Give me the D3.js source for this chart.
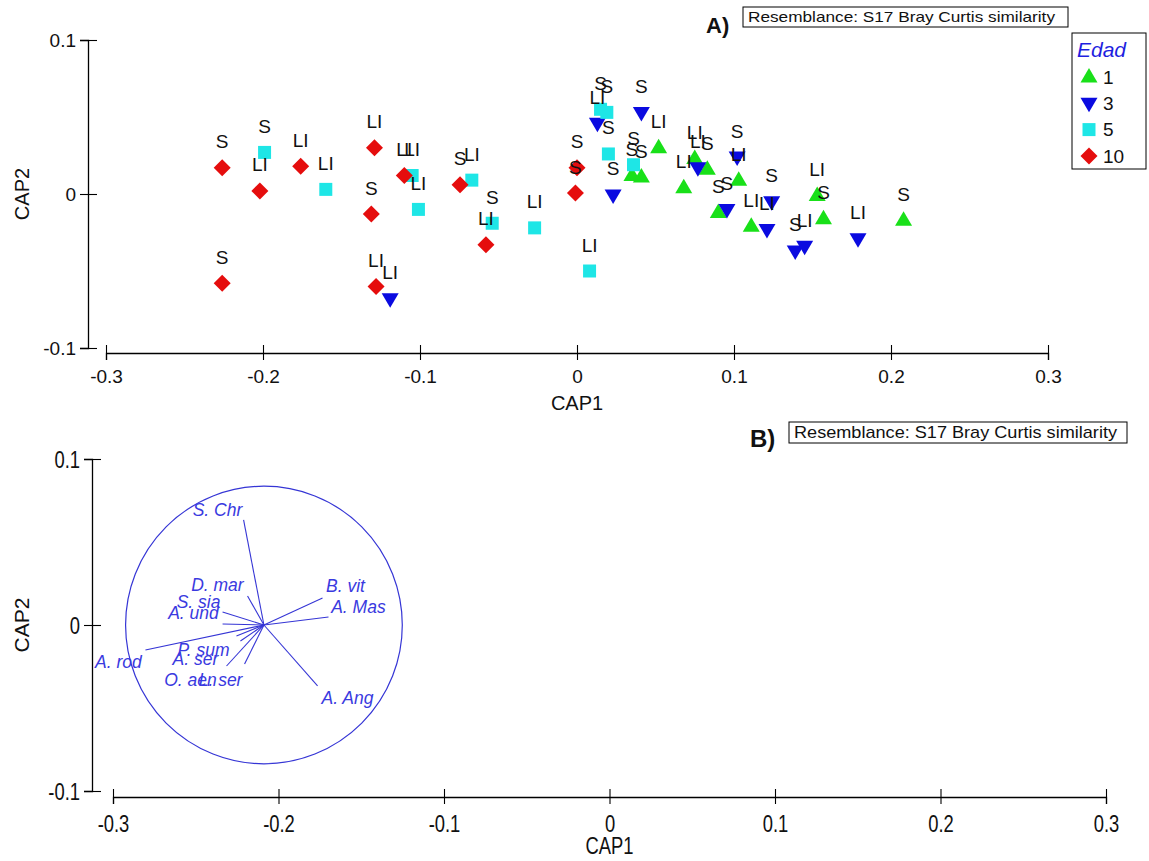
<!DOCTYPE html>
<html>
<head>
<meta charset="utf-8">
<script src="https://cdn.jsdelivr.net/npm/d3@7"></script>
<style>
  html, body { margin: 0; padding: 0; background: #fff; }
  svg { display: block; font-family: Arial, "Liberation Sans", sans-serif; }
</style>
</head>
<body>
<svg id="chart" width="1149" height="861"></svg>
<script>
// ---------------- DATA ----------------
const ageGroups = ["1", "3", "5", "10"];
const groupColors = ["#19e019", "#0a0ae0", "#1ee6e6", "#e50d0d"];

// Age 1 (green up-triangles)
const cap1Age1 = [0.052, 0.035, 0.041, 0.068, 0.075, 0.083, 0.103, 0.090, 0.111, 0.153, 0.157, 0.208];
const cap2Age1 = [0.030, 0.012, 0.011, 0.004, 0.023, 0.016, 0.009, -0.012, -0.021, -0.001, -0.016, -0.017];
const labAge1  = ["LI", "S", "S", "LI", "LI", "S", "LI", "S", "LI", "LI", "S", "S"];

// Age 3 (blue down-triangles)
const cap1Age3 = [-0.119, 0.013, 0.041, 0.023, 0.077, 0.102, 0.0955, 0.124, 0.121, 0.139, 0.145, 0.179];
const cap2Age3 = [-0.068, 0.046, 0.053, -0.0006, 0.017, 0.024, -0.010, -0.005, -0.023, -0.037, -0.034, -0.029];
const labAge3  = ["LI", "LI", "S", "S", "LI", "S", "S", "S", "LI", "S", "LI", "LI"];

// Age 5 (cyan squares)
const cap1Age5 = [-0.199, -0.160, -0.105, -0.101, -0.067, -0.054, -0.027, 0.008, 0.015, 0.019, 0.020, 0.036];
const cap2Age5 = [0.027, 0.003, 0.012, -0.010, 0.009, -0.019, -0.022, -0.050, 0.055, 0.053, 0.026, 0.019];
const labAge5  = ["S", "LI", "LI", "LI", "LI", "S", "LI", "LI", "S", "S", "S", "S"];

// Age 10 (red diamonds)
const cap1Age10 = [-0.226, -0.202, -0.176, -0.129, -0.131, -0.110, -0.0745, -0.058, 0.000, -0.001, -0.226, -0.128];
const cap2Age10 = [0.017, 0.002, 0.018, 0.030, -0.013, 0.012, 0.006, -0.033, 0.017, 0.0006, -0.058, -0.060];
const labAge10  = ["S", "LI", "LI", "LI", "S", "LI", "S", "LI", "S", "S", "S", "LI"];

// Panel B: vectors (species correlations)
const species   = ["S. Chr", "D. mar", "S. sia", "A. und", "B. vit", "A. Mas", "A. rod", "P. sum", "A. ser", "O. aen", "L. ser", "A. Ang"];
const vecEndX   = [-0.2211, -0.2187, -0.2338, -0.2338, -0.1734, -0.1698, -0.2804, -0.2254, -0.2230, -0.2314, -0.2205, -0.1764];
const vecEndY   = [0.0633, 0.0175, 0.0078, 0.0006, 0.0163, 0.0048, -0.0151, -0.0066, -0.0096, -0.0247, -0.0235, -0.0367];
const vecLabX   = [-0.2369, -0.2369, -0.2483, -0.2514, -0.1595, -0.1517, -0.2967, -0.2453, -0.2502, -0.2532, -0.2350, -0.1583];
const vecLabY   = [0.0693, 0.0241, 0.0139, 0.0072, 0.0235, 0.0108, -0.0223, -0.0151, -0.0205, -0.0331, -0.0331, -0.0440];
const vecOrigin = [-0.2088, 0.0];
const circleRadius = 0.0836;

const xTicks = [-0.3, -0.2, -0.1, 0, 0.1, 0.2, 0.3];
const yTicks = [-0.1, 0, 0.1];
const xTickLabels = ["-0.3", "-0.2", "-0.1", "0", "0.1", "0.2", "0.3"];
const yTickLabels = ["-0.1", "0", "0.1"];
const boxText = "Resemblance: S17 Bray Curtis similarity";

// ---------------- DRAW ----------------
const svg = d3.select("#chart");
const FONT = "Arial, 'Liberation Sans', sans-serif";

function drawAxes(g, x, y, xAxisY, yAxisX, opts) {
  const xa = g.append("g").attr("transform", `translate(0,${xAxisY})`)
    .call(d3.axisBottom(x).tickValues(xTicks).tickFormat((d, i) => xTickLabels[i]).tickSizeOuter(0).tickSize(7));
  xa.select(".domain").attr("stroke", "#000").attr("stroke-width", 1.3);
  xa.selectAll(".tick line").attr("y1", -8).attr("y2", 7).attr("stroke", "#000").attr("stroke-width", 1.1);
  xa.selectAll(".tick text").attr("y", opts.xLabY).attr("dy", 0)
    .attr("font-size", opts.fs).attr("font-family", FONT).attr("fill", "#111")
    .attr("transform", `scale(${opts.sx},1)`);

  const ya = g.append("g").attr("transform", `translate(${yAxisX},0)`)
    .call(d3.axisLeft(y).tickValues(yTicks).tickFormat((d, i) => yTickLabels[i]).tickSizeOuter(0).tickSize(8));
  ya.select(".domain").attr("stroke", "#000").attr("stroke-width", 1.3);
  ya.selectAll(".tick line").attr("x1", -8).attr("x2", 9).attr("stroke", "#000").attr("stroke-width", 1.1);
  ya.selectAll(".tick text").attr("x", -12 / opts.sx).attr("dy", "0.36em")
    .attr("font-size", opts.fs).attr("font-family", FONT).attr("fill", "#111")
    .attr("transform", `scale(${opts.sx},1)`);

  const cx = (x.range()[0] + x.range()[1]) / 2;
  g.append("text").attr("transform", `translate(${cx},${opts.capY}) scale(${opts.sx},1)`)
    .attr("text-anchor", "middle").attr("font-size", opts.capFs).attr("fill", "#111").text("CAP1");
  g.append("text").attr("transform", `translate(${opts.cap2X},${y(0)}) rotate(-90)`)
    .attr("text-anchor", "middle").attr("dy", "0.35em").attr("font-size", opts.cap2Fs).attr("fill", "#111").text("CAP2");
}

function drawBox(g, letter, lx, ly, lfs, bx, by, bw, bh, tfs, tlen) {
  g.append("text").attr("x", lx).attr("y", ly).attr("font-size", lfs).attr("font-weight", "bold")
    .attr("fill", "#111").text(letter);
  g.append("rect").attr("x", bx).attr("y", by).attr("width", bw).attr("height", bh)
    .attr("fill", "#fff").attr("stroke", "#000").attr("stroke-width", 1);
  g.append("text").attr("x", bx + 5).attr("y", by + bh - 5).attr("font-size", tfs)
    .attr("textLength", tlen).attr("lengthAdjust", "spacingAndGlyphs").attr("fill", "#111").text(boxText);
}

// ----- Panel A -----
const xA = d3.scaleLinear().domain([-0.3, 0.3]).range([106, 1048]);
const yA = d3.scaleLinear().domain([-0.1, 0.1]).range([348, 40]);
const gA = svg.append("g");
drawAxes(gA, xA, yA, 353, 88, { fs: 19, xLabY: 30, capY: 410, capFs: 20, cap2Fs: 20, cap2X: 22, sx: 1 });
drawBox(gA, "A)", 706, 33, 22, 743, 7, 325, 20, 14.5, 307);

const shapes = {
  "1": "M0,-9L8.5,5.5L-8.5,5.5Z",
  "3": "M0,9L8.5,-5.5L-8.5,-5.5Z",
  "5": "M-6.5,-6.5H6.5V6.5H-6.5Z",
  "10": "M0,-8.5L8.5,0L0,8.5L-8.5,0Z"
};
const groupData = [
  [cap1Age1, cap2Age1, labAge1],
  [cap1Age3, cap2Age3, labAge3],
  [cap1Age5, cap2Age5, labAge5],
  [cap1Age10, cap2Age10, labAge10]
];
const points = [];
groupData.forEach((gd, gi) => {
  gd[0].forEach((v, i) => points.push({ g: ageGroups[gi], c: groupColors[gi], x: v, y: gd[1][i], lab: gd[2][i] }));
});

gA.append("g").selectAll("path").data(points).join("path")
  .attr("d", d => shapes[d.g])
  .attr("transform", d => `translate(${xA(d.x)},${yA(d.y)})`)
  .attr("fill", d => d.c);

gA.append("g").selectAll("text").data(points).join("text")
  .attr("x", d => xA(d.x)).attr("y", d => yA(d.y) - 19.5)
  .attr("text-anchor", "middle").attr("font-size", 19).attr("fill", "#111")
  .text(d => d.lab);

// Legend
const leg = gA.append("g");
leg.append("rect").attr("x", 1072).attr("y", 33).attr("width", 74).attr("height", 136)
  .attr("fill", "#fff").attr("stroke", "#000").attr("stroke-width", 1);
leg.append("text").attr("x", 1077).attr("y", 57).attr("font-size", 21).attr("font-style", "italic")
  .attr("fill", "#1f1fe0").text("Edad");
ageGroups.forEach((a, i) => {
  const cy = 77 + i * 26.3;
  leg.append("path").attr("d", shapes[a]).attr("transform", `translate(1089,${cy})`).attr("fill", groupColors[i]);
  leg.append("text").attr("x", 1103).attr("y", cy).attr("dy", "0.35em").attr("font-size", 19).attr("fill", "#111").text(a);
});

// ----- Panel B -----
const xB = d3.scaleLinear().domain([-0.3, 0.3]).range([113, 1106]);
const yB = d3.scaleLinear().domain([-0.1, 0.1]).range([791, 459]);
const gB = svg.append("g");
drawAxes(gB, xB, yB, 797, 92, { fs: 23, xLabY: 35, capY: 854, capFs: 23, cap2Fs: 21, cap2X: 22, sx: 0.8 });
drawBox(gB, "B)", 750, 447, 24, 789, 422, 338, 21, 17, 323);

const blue = "#3535d5";
gB.append("ellipse")
  .attr("cx", xB(vecOrigin[0])).attr("cy", yB(vecOrigin[1]))
  .attr("rx", xB(vecOrigin[0] + circleRadius) - xB(vecOrigin[0]))
  .attr("ry", yB(vecOrigin[1]) - yB(vecOrigin[1] + circleRadius))
  .attr("fill", "none").attr("stroke", blue).attr("stroke-width", 1.2);

const vecs = species.map((s, i) => ({ s, x: vecEndX[i], y: vecEndY[i], lx: vecLabX[i], ly: vecLabY[i] }));
gB.append("g").selectAll("line").data(vecs).join("line")
  .attr("x1", xB(vecOrigin[0])).attr("y1", yB(vecOrigin[1]))
  .attr("x2", d => xB(d.x)).attr("y2", d => yB(d.y))
  .attr("stroke", blue).attr("stroke-width", 1.1);
gB.append("g").selectAll("text").data(vecs).join("text")
  .attr("x", d => xB(d.lx)).attr("y", d => yB(d.ly)).attr("dy", "0.35em")
  .attr("text-anchor", "middle").attr("font-size", 17.5).attr("font-style", "italic")
  .attr("fill", "#3a3ae0").text(d => d.s);
</script>
</body>
</html>
